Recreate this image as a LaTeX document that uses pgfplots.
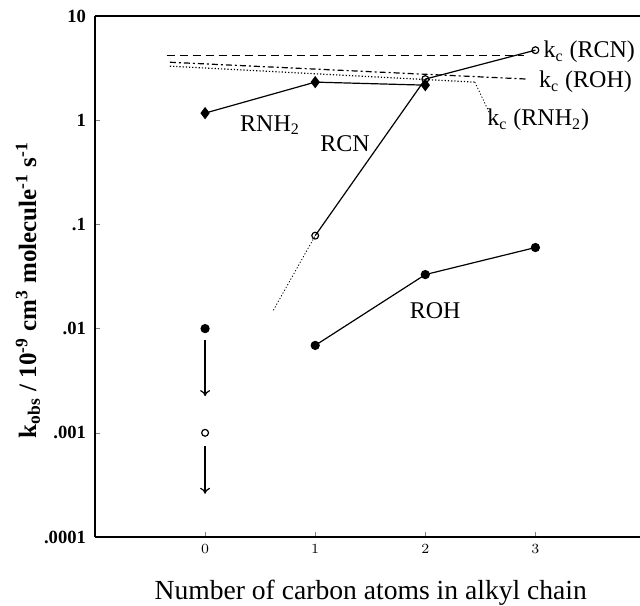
\documentclass[border=0pt]{standalone}
\usepackage{pgfplots}
\pgfplotsset{compat=1.18}
\usetikzlibrary{arrows.meta}
\usepackage{fontspec}
\setmainfont{Liberation Serif}
\begin{document}
\begin{tikzpicture}
\begin{axis}[
  scale only axis,
  width=272.5pt, height=260.5pt,
  xmin=-1, xmax=3.95,
  ymode=log, ymin=1e-4, ymax=10,
  axis x line*=box, axis y line*=left,
  xtick={0,1,2,3}, xtick pos=bottom,
  xticklabel style={font=\fontsize{7.5}{8}\selectfont},
  ytick={10,1,0.1,0.01,0.001,0.0001},
  yticklabels={10,1,.1,.01,.001,.0001},
  yticklabel style={font=\fontsize{9.3}{10}\selectfont\bfseries, xshift=-1pt},
  tick align=inside,
  major tick length=2.5pt, minor tick length=1.5pt,
  every axis plot/.append style={line width=0.6pt},
  axis line style={line width=0.9pt},
  clip=false,
  xlabel={Number of carbon atoms in alkyl chain},
  every axis x label/.style={at={(axis description cs:0.506,-0.1075)},anchor=center,font=\fontsize{13.8}{15}\selectfont},
  ylabel={k\textsubscript{obs} / 10\textsuperscript{-9} cm\textsuperscript{3} molecule\textsuperscript{-1} s\textsuperscript{-1}},
  every axis y label/.style={at={(axis description cs:-0.123,0.474)},rotate=90,anchor=center,font=\fontsize{12.5}{14}\selectfont\bfseries},
]
% k_c lines
\addplot[black, dash pattern=on 4pt off 2.5pt] coordinates {(-0.35,4.2) (2.9,4.2)};
\addplot[black, dash pattern=on 3pt off 1.5pt on 1pt off 1.5pt] coordinates {(-0.32,3.6) (2.93,2.48)};
\addplot[black, densely dotted] coordinates {(-0.32,3.3) (2.45,2.32)};
\addplot[black, densely dotted, line width=0.4pt] coordinates {(2.45,2.32) (2.58,1.19)};
% RNH2
\addplot[black, mark=diamond*, mark size=2.6pt] coordinates {(0,1.17) (1,2.32) (2,2.17)};
% RCN dotted extension
\addplot[black, densely dotted, line width=0.4pt] coordinates {(0.62,0.015) (1,0.078)};
% RCN
\addplot[black, mark=o, mark size=1.7pt, mark options={fill=white}] coordinates {(1,0.078) (2,2.48) (3,4.7)};
% ROH
\addplot[black, mark=*, mark size=2pt] coordinates {(1,0.0069) (2,0.033) (3,0.060)};
% upper limits at 0
\addplot[black, only marks, mark=*, mark size=2pt] coordinates {(0,0.01)};
\addplot[black, only marks, mark=o, mark size=1.7pt] coordinates {(0,0.001)};
\addplot[black, -{To[length=3pt,width=5pt]}] coordinates {(0,0.0077) (0,0.00225)};
\addplot[black, -{To[length=3pt,width=5pt]}] coordinates {(0,0.00075) (0,0.00026)};
% labels
\node[font=\fontsize{12}{13}\selectfont] at (axis cs:0.59,0.9) {RNH\textsubscript{2}};
\node[font=\fontsize{12}{13}\selectfont] at (axis cs:1.27,0.6) {RCN};
\node[font=\fontsize{12}{13}\selectfont] at (axis cs:2.09,0.0149) {ROH};
\node[font=\fontsize{12}{13}\selectfont, anchor=west, inner sep=0pt] at (axis cs:3.07,4.5) {k\textsubscript{c} (RCN)};
\node[font=\fontsize{12}{13}\selectfont, anchor=west, inner sep=0pt] at (axis cs:3.03,2.32) {k\textsubscript{c} (ROH)};
\node[font=\fontsize{12}{13}\selectfont, anchor=west, inner sep=0pt] at (axis cs:2.56,1.0) {k\textsubscript{c} (RNH\textsubscript{2})};
\coordinate (bbsw) at (rel axis cs:-0.1743,-0.1324);
\coordinate (bbne) at (rel axis cs:1,1.0307);
\end{axis}
\pgfresetboundingbox
\useasboundingbox (bbsw) rectangle (bbne);
\end{tikzpicture}
\end{document}
